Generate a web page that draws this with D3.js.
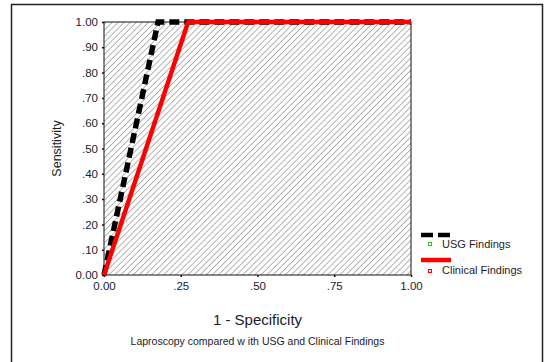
<!DOCTYPE html>
<html>
<head>
<meta charset="utf-8">
<script src="https://cdn.jsdelivr.net/npm/d3@7"></script>
<style>
  body { margin: 0; background: #fff; }
  svg { display: block; font-family: Arial, "Liberation Sans", sans-serif; }
</style>
</head>
<body>
<div id="general"></div>
<script>
const w = 545, h = 362;
const m = {l: 104, r: 134, t: 22, b: 87};

// ROC curves
const usgX = [0, 0.176, 1];
const usgY = [0, 1, 1];
const clinX = [0, 0.274, 1];
const clinY = [0, 1, 1];

const yTicks = [0, .1, .2, .3, .4, .5, .6, .7, .8, .9, 1];
const yTickLabels = ["0.00", ".10", ".20", ".30", ".40", ".50", ".60", ".70", ".80", ".90", "1.00"];
const xTicks = [0, .25, .5, .75, 1];
const xTickLabels = ["0.00", ".25", ".50", ".75", "1.00"];

const seriesNames = ["USG Findings", "Clinical Findings"];
const textCol = "#1c1c28";

const x = d3.scaleLinear().domain([0, 1]).range([m.l, w - m.r]);
const y = d3.scaleLinear().domain([0, 1]).range([h - m.b, m.t]);

const svg = d3.select("#general").append("svg").attr("width", w).attr("height", h);

// outer frame
svg.append("rect")
  .attr("x", 11.5).attr("y", 4.5)
  .attr("width", 531).attr("height", 370)
  .attr("fill", "none").attr("stroke", "#222").attr("stroke-width", 1.5);

// hatch pattern
const defs = svg.append("defs");
const pat = defs.append("pattern")
  .attr("id", "hatch")
  .attr("patternUnits", "userSpaceOnUse")
  .attr("width", 4.3).attr("height", 4.3)
  .attr("patternTransform", "rotate(45)");
pat.append("line")
  .attr("x1", 0).attr("y1", 0).attr("x2", 0).attr("y2", 4.3)
  .attr("stroke", "#444").attr("stroke-width", 0.8);

svg.append("rect")
  .attr("x", x(0)).attr("y", y(1))
  .attr("width", x(1) - x(0)).attr("height", y(0) - y(1))
  .attr("fill", "url(#hatch)").attr("stroke", "#111").attr("stroke-width", 1);

// axes
const yAxis = svg.append("g")
  .attr("transform", `translate(${x(0)},0)`)
  .call(d3.axisLeft(y).tickValues(yTicks).tickFormat((d, i) => yTickLabels[i]).tickSize(2).tickPadding(4));
const xAxis = svg.append("g")
  .attr("transform", `translate(0,${y(0)})`)
  .call(d3.axisBottom(x).tickValues(xTicks).tickFormat((d, i) => xTickLabels[i]).tickSize(2).tickPadding(5));
[xAxis, yAxis].forEach(a => {
  a.select(".domain").remove();
  a.selectAll("line").attr("stroke", "#111").attr("stroke-width", 1.5);
  a.selectAll("text").attr("fill", textCol).style("font-size", "11.5px").style("font-family", "Arial, 'Liberation Sans', sans-serif");
});

// lines
const line = d3.line().x(d => x(d[0])).y(d => y(d[1]));
svg.append("path")
  .datum(usgX.map((v, i) => [v, usgY[i]]))
  .attr("d", line)
  .attr("fill", "none").attr("stroke", "#000").attr("stroke-width", 5.5)
  .attr("stroke-dasharray", "10,5");
svg.append("path")
  .datum(clinX.map((v, i) => [v, clinY[i]]))
  .attr("d", line)
  .attr("fill", "none").attr("stroke", "#ff0000").attr("stroke-width", 4.5)
  .attr("stroke-linejoin", "miter");

// axis titles
svg.append("text")
  .attr("transform", `translate(61,${(y(0) + y(1)) / 2}) rotate(-90)`)
  .attr("text-anchor", "middle")
  .attr("fill", textCol)
  .style("font-size", "12.5px")
  .text("Sensitivity");
svg.append("text")
  .attr("x", (x(0) + x(1)) / 2).attr("y", 325)
  .attr("text-anchor", "middle")
  .attr("fill", textCol)
  .style("font-size", "15px")
  .text("1 - Specificity");
svg.append("text")
  .attr("x", (x(0) + x(1)) / 2).attr("y", 345)
  .attr("text-anchor", "middle")
  .attr("fill", textCol)
  .style("font-size", "10.5px")
  .text("Laproscopy compared w ith USG and Clinical Findings");

// legend
const leg = svg.append("g").attr("transform", "translate(421,0)");
leg.append("line")
  .attr("x1", 0).attr("x2", 30).attr("y1", 235).attr("y2", 235)
  .attr("stroke", "#000").attr("stroke-width", 4.5).attr("stroke-dasharray", "12,5");
leg.append("rect")
  .attr("x", 7.5).attr("y", 242.5).attr("width", 3).attr("height", 3)
  .attr("fill", "#fff").attr("stroke", "#22cc22").attr("stroke-width", 1);
leg.append("line")
  .attr("x1", 0).attr("x2", 30).attr("y1", 260).attr("y2", 260)
  .attr("stroke", "#ff0000").attr("stroke-width", 4.5);
leg.append("rect")
  .attr("x", 7.5).attr("y", 269.5).attr("width", 3).attr("height", 3)
  .attr("fill", "#fff").attr("stroke", "#ff0000").attr("stroke-width", 1);
leg.selectAll("text.lab")
  .data(seriesNames)
  .join("text")
  .attr("class", "lab")
  .attr("x", 21).attr("y", (d, i) => 248 + i * 26)
  .attr("fill", textCol)
  .style("font-size", "11px")
  .text(d => d);
</script>
</body>
</html>
